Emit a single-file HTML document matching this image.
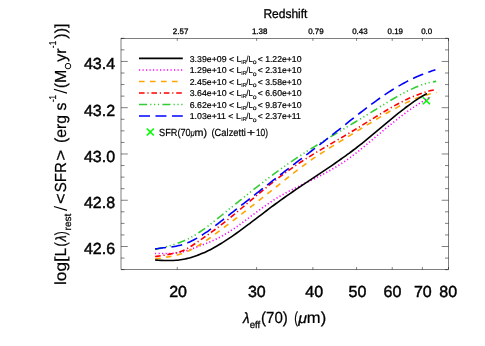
<!DOCTYPE html>
<html><head><meta charset="utf-8"><title>plot</title>
<style>html,body{margin:0;padding:0;background:#fff;}svg{display:block;will-change:transform;}text{font-family:'Liberation Sans',sans-serif;fill:#000;text-rendering:geometricPrecision;}</style></head>
<body>
<svg width="485" height="346" viewBox="0 0 485 346">
<rect x="0" y="0" width="485" height="346" fill="#fff"/>
<path d="M422.90 97.25 L429.90 104.25 M422.90 104.25 L429.90 97.25" stroke="#00ff00" stroke-width="1.65" fill="none"/>
<g fill="none" stroke-width="1.60">
<path d="M155.10 253.47 C155.60 253.48 157.10 253.49 158.10 253.50 C159.10 253.51 160.10 253.53 161.10 253.54 C162.10 253.55 163.10 253.56 164.10 253.56 C165.10 253.56 166.10 253.56 167.10 253.54 C168.10 253.52 169.10 253.50 170.10 253.45 C171.10 253.41 172.10 253.35 173.10 253.26 C174.10 253.18 175.10 253.08 176.10 252.95 C177.10 252.82 178.10 252.66 179.10 252.48 C180.10 252.30 181.10 252.09 182.10 251.86 C183.10 251.63 184.10 251.37 185.10 251.09 C186.10 250.81 187.10 250.51 188.10 250.19 C189.10 249.87 190.10 249.53 191.10 249.18 C192.10 248.83 193.10 248.46 194.10 248.09 C195.10 247.72 196.10 247.34 197.10 246.96 C198.10 246.58 199.10 246.19 200.10 245.81 C201.10 245.42 202.10 245.04 203.10 244.65 C204.10 244.25 205.10 243.86 206.10 243.46 C207.10 243.05 208.10 242.65 209.10 242.23 C210.10 241.81 211.10 241.38 212.10 240.94 C213.10 240.49 214.10 240.04 215.10 239.57 C216.10 239.10 217.10 238.62 218.10 238.11 C219.10 237.61 220.10 237.09 221.10 236.55 C222.10 236.01 223.10 235.45 224.10 234.87 C225.10 234.29 226.10 233.69 227.10 233.08 C228.10 232.47 229.10 231.84 230.10 231.19 C231.10 230.55 232.10 229.89 233.10 229.22 C234.10 228.54 235.10 227.86 236.10 227.17 C237.10 226.47 238.10 225.77 239.10 225.05 C240.10 224.34 241.10 223.62 242.10 222.89 C243.10 222.16 244.10 221.43 245.10 220.69 C246.10 219.95 247.10 219.20 248.10 218.46 C249.10 217.71 250.10 216.96 251.10 216.22 C252.10 215.47 253.10 214.72 254.10 213.97 C255.10 213.22 256.10 212.47 257.10 211.73 C258.10 210.99 259.10 210.25 260.10 209.51 C261.10 208.78 262.10 208.05 263.10 207.33 C264.10 206.61 265.10 205.90 266.10 205.19 C267.10 204.49 268.10 203.79 269.10 203.11 C270.10 202.43 271.10 201.75 272.10 201.10 C273.10 200.44 274.10 199.79 275.10 199.16 C276.10 198.53 277.10 197.92 278.10 197.32 C279.10 196.71 280.10 196.13 281.10 195.55 C282.10 194.97 283.10 194.41 284.10 193.85 C285.10 193.30 286.10 192.75 287.10 192.22 C288.10 191.68 289.10 191.16 290.10 190.64 C291.10 190.12 292.10 189.61 293.10 189.10 C294.10 188.59 295.10 188.09 296.10 187.60 C297.10 187.10 298.10 186.61 299.10 186.12 C300.10 185.63 301.10 185.15 302.10 184.66 C303.10 184.18 304.10 183.69 305.10 183.21 C306.10 182.73 307.10 182.24 308.10 181.76 C309.10 181.27 310.10 180.79 311.10 180.30 C312.10 179.81 313.10 179.32 314.10 178.82 C315.10 178.33 316.10 177.83 317.10 177.33 C318.10 176.83 319.10 176.32 320.10 175.81 C321.10 175.29 322.10 174.77 323.10 174.25 C324.10 173.72 325.10 173.19 326.10 172.65 C327.10 172.11 328.10 171.56 329.10 171.00 C330.10 170.44 331.10 169.88 332.10 169.30 C333.10 168.72 334.10 168.13 335.10 167.54 C336.10 166.94 337.10 166.33 338.10 165.70 C339.10 165.08 340.10 164.45 341.10 163.80 C342.10 163.15 343.10 162.48 344.10 161.81 C345.10 161.13 346.10 160.44 347.10 159.73 C348.10 159.02 349.10 158.30 350.10 157.57 C351.10 156.84 352.10 156.09 353.10 155.34 C354.10 154.58 355.10 153.81 356.10 153.03 C357.10 152.26 358.10 151.47 359.10 150.68 C360.10 149.88 361.10 149.08 362.10 148.27 C363.10 147.46 364.10 146.64 365.10 145.82 C366.10 145.00 367.10 144.17 368.10 143.34 C369.10 142.50 370.10 141.67 371.10 140.83 C372.10 139.99 373.10 139.15 374.10 138.31 C375.10 137.47 376.10 136.62 377.10 135.78 C378.10 134.94 379.10 134.09 380.10 133.25 C381.10 132.41 382.10 131.57 383.10 130.73 C384.10 129.90 385.10 129.06 386.10 128.23 C387.10 127.40 388.10 126.58 389.10 125.76 C390.10 124.94 391.10 124.13 392.10 123.32 C393.10 122.51 394.10 121.71 395.10 120.92 C396.10 120.13 397.10 119.34 398.10 118.56 C399.10 117.79 400.10 117.02 401.10 116.26 C402.10 115.50 403.10 114.74 404.10 114.00 C405.10 113.26 406.10 112.52 407.10 111.80 C408.10 111.08 409.10 110.36 410.10 109.66 C411.10 108.96 412.10 108.26 413.10 107.58 C414.10 106.90 415.10 106.23 416.10 105.57 C417.10 104.91 418.10 104.27 419.10 103.63 C420.10 103.00 421.10 102.37 422.10 101.77 C423.10 101.16 424.10 100.56 425.10 99.98 C426.10 99.40 427.22 98.77 428.10 98.27 C428.98 97.78 430.02 97.23 430.40 97.03" stroke="#ff00ff" stroke-dasharray="1.2 2.3"/>
<path d="M155.10 259.09 C155.60 258.99 157.10 258.70 158.10 258.52 C159.10 258.34 160.10 258.18 161.10 258.01 C162.10 257.85 163.10 257.70 164.10 257.54 C165.10 257.38 166.10 257.23 167.10 257.07 C168.10 256.90 169.10 256.74 170.10 256.56 C171.10 256.38 172.10 256.19 173.10 255.99 C174.10 255.78 175.10 255.56 176.10 255.32 C177.10 255.08 178.10 254.82 179.10 254.53 C180.10 254.24 181.10 253.92 182.10 253.58 C183.10 253.23 184.10 252.85 185.10 252.44 C186.10 252.04 187.10 251.60 188.10 251.14 C189.10 250.68 190.10 250.19 191.10 249.68 C192.10 249.17 193.10 248.64 194.10 248.09 C195.10 247.53 196.10 246.95 197.10 246.36 C198.10 245.76 199.10 245.15 200.10 244.52 C201.10 243.89 202.10 243.24 203.10 242.58 C204.10 241.93 205.10 241.25 206.10 240.57 C207.10 239.88 208.10 239.18 209.10 238.48 C210.10 237.77 211.10 237.06 212.10 236.34 C213.10 235.62 214.10 234.89 215.10 234.16 C216.10 233.43 217.10 232.69 218.10 231.95 C219.10 231.21 220.10 230.47 221.10 229.73 C222.10 228.98 223.10 228.23 224.10 227.48 C225.10 226.73 226.10 225.98 227.10 225.23 C228.10 224.47 229.10 223.71 230.10 222.95 C231.10 222.19 232.10 221.43 233.10 220.66 C234.10 219.90 235.10 219.13 236.10 218.36 C237.10 217.59 238.10 216.82 239.10 216.05 C240.10 215.28 241.10 214.50 242.10 213.72 C243.10 212.95 244.10 212.17 245.10 211.39 C246.10 210.61 247.10 209.83 248.10 209.04 C249.10 208.26 250.10 207.48 251.10 206.69 C252.10 205.91 253.10 205.12 254.10 204.33 C255.10 203.54 256.10 202.76 257.10 201.97 C258.10 201.18 259.10 200.38 260.10 199.59 C261.10 198.80 262.10 198.01 263.10 197.22 C264.10 196.42 265.10 195.63 266.10 194.84 C267.10 194.04 268.10 193.25 269.10 192.46 C270.10 191.66 271.10 190.87 272.10 190.07 C273.10 189.28 274.10 188.48 275.10 187.69 C276.10 186.90 277.10 186.10 278.10 185.31 C279.10 184.51 280.10 183.72 281.10 182.93 C282.10 182.13 283.10 181.34 284.10 180.55 C285.10 179.76 286.10 178.96 287.10 178.17 C288.10 177.38 289.10 176.59 290.10 175.81 C291.10 175.02 292.10 174.23 293.10 173.45 C294.10 172.67 295.10 171.89 296.10 171.12 C297.10 170.35 298.10 169.58 299.10 168.82 C300.10 168.06 301.10 167.30 302.10 166.55 C303.10 165.80 304.10 165.06 305.10 164.32 C306.10 163.59 307.10 162.86 308.10 162.15 C309.10 161.43 310.10 160.72 311.10 160.02 C312.10 159.33 313.10 158.64 314.10 157.96 C315.10 157.29 316.10 156.62 317.10 155.96 C318.10 155.30 319.10 154.65 320.10 154.00 C321.10 153.35 322.10 152.71 323.10 152.08 C324.10 151.44 325.10 150.81 326.10 150.18 C327.10 149.55 328.10 148.93 329.10 148.31 C330.10 147.68 331.10 147.06 332.10 146.44 C333.10 145.82 334.10 145.20 335.10 144.58 C336.10 143.96 337.10 143.34 338.10 142.73 C339.10 142.11 340.10 141.49 341.10 140.88 C342.10 140.26 343.10 139.65 344.10 139.03 C345.10 138.42 346.10 137.80 347.10 137.19 C348.10 136.58 349.10 135.97 350.10 135.35 C351.10 134.74 352.10 134.13 353.10 133.52 C354.10 132.91 355.10 132.29 356.10 131.68 C357.10 131.07 358.10 130.46 359.10 129.85 C360.10 129.24 361.10 128.63 362.10 128.02 C363.10 127.41 364.10 126.80 365.10 126.18 C366.10 125.57 367.10 124.96 368.10 124.35 C369.10 123.74 370.10 123.13 371.10 122.52 C372.10 121.91 373.10 121.30 374.10 120.69 C375.10 120.08 376.10 119.48 377.10 118.87 C378.10 118.27 379.10 117.67 380.10 117.07 C381.10 116.47 382.10 115.88 383.10 115.29 C384.10 114.70 385.10 114.12 386.10 113.54 C387.10 112.96 388.10 112.38 389.10 111.81 C390.10 111.24 391.10 110.68 392.10 110.12 C393.10 109.56 394.10 109.01 395.10 108.47 C396.10 107.93 397.10 107.39 398.10 106.87 C399.10 106.34 400.10 105.82 401.10 105.31 C402.10 104.80 403.10 104.30 404.10 103.81 C405.10 103.32 406.10 102.84 407.10 102.38 C408.10 101.91 409.10 101.45 410.10 101.00 C411.10 100.56 412.10 100.12 413.10 99.70 C414.10 99.28 415.10 98.87 416.10 98.47 C417.10 98.08 418.10 97.69 419.10 97.32 C420.10 96.96 421.10 96.60 422.10 96.26 C423.10 95.92 424.10 95.60 425.10 95.29 C426.10 94.98 427.10 94.69 428.10 94.41 C429.10 94.14 430.10 93.88 431.10 93.64 C432.10 93.39 433.16 93.16 434.10 92.96 C435.04 92.77 436.31 92.54 436.75 92.46" stroke="#ffa500" stroke-dasharray="5.6 5.4"/>
<path d="M155.10 256.50 C155.60 256.44 157.10 256.27 158.10 256.13 C159.10 256.00 160.10 255.85 161.10 255.69 C162.10 255.54 163.10 255.37 164.10 255.20 C165.10 255.02 166.10 254.84 167.10 254.66 C168.10 254.47 169.10 254.28 170.10 254.09 C171.10 253.90 172.10 253.71 173.10 253.51 C174.10 253.31 175.10 253.12 176.10 252.88 C177.10 252.65 178.10 252.40 179.10 252.09 C180.10 251.78 181.10 251.42 182.10 251.01 C183.10 250.61 184.10 250.14 185.10 249.64 C186.10 249.14 187.10 248.60 188.10 248.03 C189.10 247.46 190.10 246.85 191.10 246.22 C192.10 245.60 193.10 244.94 194.10 244.28 C195.10 243.62 196.10 242.93 197.10 242.25 C198.10 241.57 199.10 240.88 200.10 240.19 C201.10 239.50 202.10 238.81 203.10 238.12 C204.10 237.42 205.10 236.73 206.10 236.02 C207.10 235.32 208.10 234.61 209.10 233.89 C210.10 233.18 211.10 232.46 212.10 231.72 C213.10 230.99 214.10 230.25 215.10 229.50 C216.10 228.75 217.10 228.00 218.10 227.23 C219.10 226.46 220.10 225.69 221.10 224.91 C222.10 224.13 223.10 223.34 224.10 222.55 C225.10 221.76 226.10 220.96 227.10 220.15 C228.10 219.35 229.10 218.54 230.10 217.72 C231.10 216.91 232.10 216.08 233.10 215.26 C234.10 214.44 235.10 213.61 236.10 212.78 C237.10 211.95 238.10 211.11 239.10 210.28 C240.10 209.44 241.10 208.60 242.10 207.76 C243.10 206.92 244.10 206.08 245.10 205.24 C246.10 204.39 247.10 203.55 248.10 202.71 C249.10 201.86 250.10 201.02 251.10 200.17 C252.10 199.33 253.10 198.49 254.10 197.65 C255.10 196.81 256.10 195.97 257.10 195.13 C258.10 194.29 259.10 193.46 260.10 192.62 C261.10 191.79 262.10 190.96 263.10 190.14 C264.10 189.31 265.10 188.49 266.10 187.67 C267.10 186.86 268.10 186.04 269.10 185.24 C270.10 184.43 271.10 183.63 272.10 182.83 C273.10 182.03 274.10 181.24 275.10 180.46 C276.10 179.68 277.10 178.90 278.10 178.13 C279.10 177.36 280.10 176.60 281.10 175.85 C282.10 175.10 283.10 174.35 284.10 173.62 C285.10 172.88 286.10 172.16 287.10 171.44 C288.10 170.72 289.10 170.01 290.10 169.31 C291.10 168.61 292.10 167.92 293.10 167.23 C294.10 166.54 295.10 165.86 296.10 165.19 C297.10 164.52 298.10 163.86 299.10 163.20 C300.10 162.54 301.10 161.89 302.10 161.24 C303.10 160.59 304.10 159.95 305.10 159.32 C306.10 158.68 307.10 158.05 308.10 157.43 C309.10 156.80 310.10 156.18 311.10 155.57 C312.10 154.95 313.10 154.34 314.10 153.73 C315.10 153.12 316.10 152.52 317.10 151.92 C318.10 151.32 319.10 150.72 320.10 150.13 C321.10 149.53 322.10 148.94 323.10 148.35 C324.10 147.76 325.10 147.17 326.10 146.58 C327.10 146.00 328.10 145.41 329.10 144.83 C330.10 144.25 331.10 143.66 332.10 143.08 C333.10 142.50 334.10 141.92 335.10 141.34 C336.10 140.76 337.10 140.17 338.10 139.59 C339.10 139.01 340.10 138.43 341.10 137.85 C342.10 137.26 343.10 136.68 344.10 136.09 C345.10 135.51 346.10 134.92 347.10 134.33 C348.10 133.74 349.10 133.15 350.10 132.56 C351.10 131.96 352.10 131.37 353.10 130.77 C354.10 130.17 355.10 129.57 356.10 128.96 C357.10 128.35 358.10 127.74 359.10 127.13 C360.10 126.52 361.10 125.90 362.10 125.29 C363.10 124.67 364.10 124.05 365.10 123.43 C366.10 122.81 367.10 122.19 368.10 121.57 C369.10 120.94 370.10 120.32 371.10 119.70 C372.10 119.08 373.10 118.46 374.10 117.84 C375.10 117.22 376.10 116.61 377.10 115.99 C378.10 115.38 379.10 114.77 380.10 114.16 C381.10 113.55 382.10 112.95 383.10 112.35 C384.10 111.75 385.10 111.15 386.10 110.56 C387.10 109.97 388.10 109.38 389.10 108.80 C390.10 108.22 391.10 107.65 392.10 107.09 C393.10 106.52 394.10 105.96 395.10 105.41 C396.10 104.86 397.10 104.31 398.10 103.78 C399.10 103.25 400.10 102.72 401.10 102.21 C402.10 101.69 403.10 101.18 404.10 100.69 C405.10 100.19 406.10 99.71 407.10 99.24 C408.10 98.76 409.10 98.30 410.10 97.85 C411.10 97.40 412.10 96.97 413.10 96.54 C414.10 96.12 415.10 95.71 416.10 95.31 C417.10 94.92 418.10 94.53 419.10 94.17 C420.10 93.80 421.10 93.45 422.10 93.11 C423.10 92.78 424.10 92.46 425.10 92.16 C426.10 91.86 427.10 91.57 428.10 91.30 C429.10 91.03 430.10 90.78 431.10 90.55 C432.10 90.32 433.23 90.09 434.10 89.92 C434.97 89.74 435.93 89.59 436.30 89.52" stroke="#ff0000" stroke-dasharray="5.6 2.8 1.2 2.8"/>
<path d="M155.10 249.49 C155.60 249.37 157.10 249.05 158.10 248.82 C159.10 248.59 160.10 248.36 161.10 248.12 C162.10 247.89 163.10 247.64 164.10 247.39 C165.10 247.13 166.10 246.87 167.10 246.60 C168.10 246.33 169.10 246.05 170.10 245.75 C171.10 245.46 172.10 245.16 173.10 244.84 C174.10 244.52 175.10 244.19 176.10 243.84 C177.10 243.49 178.10 243.13 179.10 242.76 C180.10 242.38 181.10 241.98 182.10 241.57 C183.10 241.16 184.10 240.73 185.10 240.27 C186.10 239.82 187.10 239.35 188.10 238.85 C189.10 238.36 190.10 237.84 191.10 237.29 C192.10 236.75 193.10 236.18 194.10 235.59 C195.10 235.00 196.10 234.38 197.10 233.75 C198.10 233.11 199.10 232.46 200.10 231.78 C201.10 231.11 202.10 230.41 203.10 229.70 C204.10 229.00 205.10 228.27 206.10 227.53 C207.10 226.79 208.10 226.04 209.10 225.28 C210.10 224.51 211.10 223.74 212.10 222.96 C213.10 222.17 214.10 221.38 215.10 220.58 C216.10 219.79 217.10 218.98 218.10 218.18 C219.10 217.37 220.10 216.56 221.10 215.75 C222.10 214.93 223.10 214.12 224.10 213.31 C225.10 212.49 226.10 211.68 227.10 210.87 C228.10 210.06 229.10 209.24 230.10 208.43 C231.10 207.62 232.10 206.81 233.10 206.00 C234.10 205.19 235.10 204.38 236.10 203.57 C237.10 202.76 238.10 201.95 239.10 201.15 C240.10 200.34 241.10 199.54 242.10 198.73 C243.10 197.93 244.10 197.13 245.10 196.33 C246.10 195.53 247.10 194.73 248.10 193.94 C249.10 193.14 250.10 192.35 251.10 191.55 C252.10 190.76 253.10 189.97 254.10 189.19 C255.10 188.40 256.10 187.62 257.10 186.84 C258.10 186.05 259.10 185.28 260.10 184.50 C261.10 183.73 262.10 182.95 263.10 182.18 C264.10 181.42 265.10 180.65 266.10 179.89 C267.10 179.13 268.10 178.37 269.10 177.61 C270.10 176.86 271.10 176.11 272.10 175.36 C273.10 174.62 274.10 173.87 275.10 173.14 C276.10 172.40 277.10 171.67 278.10 170.94 C279.10 170.21 280.10 169.48 281.10 168.76 C282.10 168.04 283.10 167.33 284.10 166.62 C285.10 165.91 286.10 165.21 287.10 164.51 C288.10 163.81 289.10 163.12 290.10 162.43 C291.10 161.74 292.10 161.06 293.10 160.38 C294.10 159.70 295.10 159.03 296.10 158.37 C297.10 157.70 298.10 157.04 299.10 156.38 C300.10 155.73 301.10 155.08 302.10 154.43 C303.10 153.78 304.10 153.14 305.10 152.50 C306.10 151.86 307.10 151.22 308.10 150.59 C309.10 149.96 310.10 149.33 311.10 148.71 C312.10 148.08 313.10 147.46 314.10 146.84 C315.10 146.22 316.10 145.60 317.10 144.99 C318.10 144.38 319.10 143.76 320.10 143.15 C321.10 142.54 322.10 141.94 323.10 141.33 C324.10 140.72 325.10 140.12 326.10 139.52 C327.10 138.91 328.10 138.31 329.10 137.71 C330.10 137.11 331.10 136.51 332.10 135.91 C333.10 135.31 334.10 134.71 335.10 134.11 C336.10 133.51 337.10 132.91 338.10 132.31 C339.10 131.71 340.10 131.11 341.10 130.51 C342.10 129.91 343.10 129.31 344.10 128.71 C345.10 128.11 346.10 127.51 347.10 126.91 C348.10 126.30 349.10 125.70 350.10 125.10 C351.10 124.50 352.10 123.90 353.10 123.29 C354.10 122.69 355.10 122.09 356.10 121.48 C357.10 120.88 358.10 120.27 359.10 119.66 C360.10 119.06 361.10 118.45 362.10 117.84 C363.10 117.24 364.10 116.63 365.10 116.02 C366.10 115.41 367.10 114.80 368.10 114.19 C369.10 113.57 370.10 112.96 371.10 112.35 C372.10 111.73 373.10 111.12 374.10 110.50 C375.10 109.88 376.10 109.27 377.10 108.65 C378.10 108.03 379.10 107.41 380.10 106.79 C381.10 106.17 382.10 105.55 383.10 104.94 C384.10 104.32 385.10 103.71 386.10 103.10 C387.10 102.49 388.10 101.88 389.10 101.27 C390.10 100.67 391.10 100.07 392.10 99.48 C393.10 98.89 394.10 98.30 395.10 97.72 C396.10 97.15 397.10 96.57 398.10 96.01 C399.10 95.45 400.10 94.89 401.10 94.35 C402.10 93.80 403.10 93.27 404.10 92.74 C405.10 92.22 406.10 91.70 407.10 91.20 C408.10 90.70 409.10 90.21 410.10 89.74 C411.10 89.27 412.10 88.80 413.10 88.36 C414.10 87.91 415.10 87.48 416.10 87.07 C417.10 86.65 418.10 86.25 419.10 85.87 C420.10 85.49 421.10 85.13 422.10 84.79 C423.10 84.44 424.10 84.12 425.10 83.81 C426.10 83.51 427.10 83.22 428.10 82.96 C429.10 82.70 430.10 82.45 431.10 82.24 C432.10 82.02 433.25 81.80 434.10 81.65 C434.95 81.50 435.85 81.38 436.20 81.32" stroke="#32cd32" stroke-dasharray="8.1 3.1 1.2 2.65 1.2 2.65 1.2 3.25"/>
<path d="M155.10 248.96 C155.60 248.87 157.10 248.59 158.10 248.44 C159.10 248.28 160.10 248.15 161.10 248.03 C162.10 247.90 163.10 247.80 164.10 247.69 C165.10 247.58 166.10 247.48 167.10 247.38 C168.10 247.27 169.10 247.17 170.10 247.05 C171.10 246.93 172.10 246.81 173.10 246.67 C174.10 246.53 175.10 246.37 176.10 246.19 C177.10 246.01 178.10 245.81 179.10 245.57 C180.10 245.33 181.10 245.07 182.10 244.77 C183.10 244.47 184.10 244.14 185.10 243.78 C186.10 243.42 187.10 243.03 188.10 242.61 C189.10 242.19 190.10 241.75 191.10 241.27 C192.10 240.80 193.10 240.30 194.10 239.78 C195.10 239.25 196.10 238.70 197.10 238.13 C198.10 237.55 199.10 236.95 200.10 236.34 C201.10 235.72 202.10 235.08 203.10 234.42 C204.10 233.77 205.10 233.09 206.10 232.40 C207.10 231.71 208.10 231.00 209.10 230.28 C210.10 229.57 211.10 228.83 212.10 228.09 C213.10 227.35 214.10 226.60 215.10 225.84 C216.10 225.08 217.10 224.31 218.10 223.54 C219.10 222.76 220.10 221.98 221.10 221.21 C222.10 220.43 223.10 219.64 224.10 218.86 C225.10 218.08 226.10 217.30 227.10 216.51 C228.10 215.73 229.10 214.95 230.10 214.16 C231.10 213.38 232.10 212.59 233.10 211.81 C234.10 211.02 235.10 210.24 236.10 209.45 C237.10 208.67 238.10 207.88 239.10 207.10 C240.10 206.31 241.10 205.53 242.10 204.74 C243.10 203.95 244.10 203.17 245.10 202.38 C246.10 201.60 247.10 200.81 248.10 200.02 C249.10 199.24 250.10 198.45 251.10 197.67 C252.10 196.88 253.10 196.10 254.10 195.31 C255.10 194.53 256.10 193.74 257.10 192.96 C258.10 192.17 259.10 191.39 260.10 190.60 C261.10 189.82 262.10 189.04 263.10 188.25 C264.10 187.47 265.10 186.69 266.10 185.91 C267.10 185.12 268.10 184.34 269.10 183.56 C270.10 182.78 271.10 182.00 272.10 181.22 C273.10 180.44 274.10 179.66 275.10 178.88 C276.10 178.11 277.10 177.33 278.10 176.55 C279.10 175.78 280.10 175.00 281.10 174.23 C282.10 173.45 283.10 172.68 284.10 171.90 C285.10 171.13 286.10 170.36 287.10 169.59 C288.10 168.82 289.10 168.05 290.10 167.28 C291.10 166.51 292.10 165.75 293.10 164.98 C294.10 164.21 295.10 163.45 296.10 162.68 C297.10 161.92 298.10 161.16 299.10 160.39 C300.10 159.63 301.10 158.87 302.10 158.10 C303.10 157.34 304.10 156.58 305.10 155.82 C306.10 155.06 307.10 154.29 308.10 153.53 C309.10 152.77 310.10 152.00 311.10 151.24 C312.10 150.48 313.10 149.71 314.10 148.95 C315.10 148.18 316.10 147.41 317.10 146.64 C318.10 145.88 319.10 145.11 320.10 144.34 C321.10 143.57 322.10 142.79 323.10 142.02 C324.10 141.25 325.10 140.47 326.10 139.69 C327.10 138.92 328.10 138.14 329.10 137.35 C330.10 136.57 331.10 135.79 332.10 135.00 C333.10 134.21 334.10 133.42 335.10 132.63 C336.10 131.84 337.10 131.05 338.10 130.26 C339.10 129.46 340.10 128.67 341.10 127.88 C342.10 127.08 343.10 126.29 344.10 125.49 C345.10 124.70 346.10 123.90 347.10 123.11 C348.10 122.32 349.10 121.52 350.10 120.73 C351.10 119.94 352.10 119.15 353.10 118.36 C354.10 117.58 355.10 116.79 356.10 116.01 C357.10 115.22 358.10 114.44 359.10 113.66 C360.10 112.89 361.10 112.11 362.10 111.34 C363.10 110.57 364.10 109.80 365.10 109.04 C366.10 108.27 367.10 107.51 368.10 106.76 C369.10 106.01 370.10 105.26 371.10 104.51 C372.10 103.77 373.10 103.03 374.10 102.30 C375.10 101.57 376.10 100.84 377.10 100.13 C378.10 99.41 379.10 98.70 380.10 97.99 C381.10 97.29 382.10 96.59 383.10 95.90 C384.10 95.22 385.10 94.54 386.10 93.87 C387.10 93.20 388.10 92.54 389.10 91.89 C390.10 91.23 391.10 90.59 392.10 89.96 C393.10 89.33 394.10 88.71 395.10 88.10 C396.10 87.49 397.10 86.89 398.10 86.30 C399.10 85.72 400.10 85.14 401.10 84.58 C402.10 84.02 403.10 83.47 404.10 82.93 C405.10 82.40 406.10 81.87 407.10 81.36 C408.10 80.85 409.10 80.35 410.10 79.87 C411.10 79.38 412.10 78.91 413.10 78.45 C414.10 77.99 415.10 77.54 416.10 77.10 C417.10 76.66 418.10 76.24 419.10 75.82 C420.10 75.40 421.10 74.99 422.10 74.59 C423.10 74.19 424.10 73.80 425.10 73.42 C426.10 73.04 427.10 72.67 428.10 72.30 C429.10 71.94 430.10 71.58 431.10 71.23 C432.10 70.88 433.38 70.45 434.10 70.20 C434.82 69.96 435.18 69.84 435.40 69.77" stroke="#0000ff" stroke-dasharray="11 5.46"/>
<path d="M155.10 259.97 C155.60 260.01 157.10 260.12 158.10 260.19 C159.10 260.26 160.10 260.32 161.10 260.37 C162.10 260.42 163.10 260.46 164.10 260.49 C165.10 260.53 166.10 260.55 167.10 260.55 C168.10 260.56 169.10 260.56 170.10 260.54 C171.10 260.52 172.10 260.49 173.10 260.44 C174.10 260.39 175.10 260.33 176.10 260.24 C177.10 260.16 178.10 260.06 179.10 259.94 C180.10 259.82 181.10 259.68 182.10 259.52 C183.10 259.36 184.10 259.18 185.10 258.98 C186.10 258.78 187.10 258.55 188.10 258.30 C189.10 258.06 190.10 257.79 191.10 257.50 C192.10 257.21 193.10 256.90 194.10 256.57 C195.10 256.24 196.10 255.89 197.10 255.52 C198.10 255.15 199.10 254.76 200.10 254.36 C201.10 253.95 202.10 253.53 203.10 253.08 C204.10 252.64 205.10 252.19 206.10 251.71 C207.10 251.24 208.10 250.75 209.10 250.24 C210.10 249.74 211.10 249.21 212.10 248.68 C213.10 248.14 214.10 247.59 215.10 247.03 C216.10 246.47 217.10 245.89 218.10 245.30 C219.10 244.71 220.10 244.10 221.10 243.49 C222.10 242.88 223.10 242.25 224.10 241.61 C225.10 240.97 226.10 240.33 227.10 239.67 C228.10 239.01 229.10 238.34 230.10 237.66 C231.10 236.99 232.10 236.30 233.10 235.61 C234.10 234.91 235.10 234.21 236.10 233.50 C237.10 232.79 238.10 232.07 239.10 231.35 C240.10 230.63 241.10 229.90 242.10 229.16 C243.10 228.43 244.10 227.69 245.10 226.94 C246.10 226.20 247.10 225.45 248.10 224.70 C249.10 223.95 250.10 223.19 251.10 222.44 C252.10 221.68 253.10 220.92 254.10 220.16 C255.10 219.39 256.10 218.63 257.10 217.87 C258.10 217.10 259.10 216.34 260.10 215.57 C261.10 214.81 262.10 214.05 263.10 213.28 C264.10 212.52 265.10 211.76 266.10 211.00 C267.10 210.24 268.10 209.49 269.10 208.73 C270.10 207.98 271.10 207.23 272.10 206.48 C273.10 205.74 274.10 204.99 275.10 204.26 C276.10 203.52 277.10 202.79 278.10 202.06 C279.10 201.34 280.10 200.62 281.10 199.90 C282.10 199.18 283.10 198.47 284.10 197.76 C285.10 197.06 286.10 196.36 287.10 195.66 C288.10 194.96 289.10 194.26 290.10 193.57 C291.10 192.88 292.10 192.19 293.10 191.51 C294.10 190.82 295.10 190.14 296.10 189.46 C297.10 188.78 298.10 188.11 299.10 187.43 C300.10 186.76 301.10 186.08 302.10 185.41 C303.10 184.74 304.10 184.07 305.10 183.40 C306.10 182.74 307.10 182.07 308.10 181.40 C309.10 180.74 310.10 180.07 311.10 179.40 C312.10 178.74 313.10 178.07 314.10 177.41 C315.10 176.74 316.10 176.07 317.10 175.41 C318.10 174.74 319.10 174.07 320.10 173.40 C321.10 172.73 322.10 172.06 323.10 171.39 C324.10 170.72 325.10 170.05 326.10 169.37 C327.10 168.70 328.10 168.02 329.10 167.34 C330.10 166.66 331.10 165.97 332.10 165.29 C333.10 164.60 334.10 163.91 335.10 163.22 C336.10 162.53 337.10 161.83 338.10 161.13 C339.10 160.43 340.10 159.73 341.10 159.02 C342.10 158.31 343.10 157.59 344.10 156.88 C345.10 156.16 346.10 155.43 347.10 154.71 C348.10 153.98 349.10 153.24 350.10 152.50 C351.10 151.76 352.10 151.02 353.10 150.26 C354.10 149.51 355.10 148.75 356.10 147.99 C357.10 147.22 358.10 146.45 359.10 145.67 C360.10 144.89 361.10 144.10 362.10 143.31 C363.10 142.51 364.10 141.71 365.10 140.90 C366.10 140.09 367.10 139.27 368.10 138.45 C369.10 137.63 370.10 136.81 371.10 135.98 C372.10 135.14 373.10 134.31 374.10 133.47 C375.10 132.63 376.10 131.79 377.10 130.95 C378.10 130.11 379.10 129.27 380.10 128.42 C381.10 127.58 382.10 126.73 383.10 125.89 C384.10 125.05 385.10 124.21 386.10 123.37 C387.10 122.53 388.10 121.69 389.10 120.86 C390.10 120.02 391.10 119.19 392.10 118.37 C393.10 117.54 394.10 116.72 395.10 115.90 C396.10 115.09 397.10 114.28 398.10 113.48 C399.10 112.68 400.10 111.88 401.10 111.10 C402.10 110.31 403.10 109.53 404.10 108.77 C405.10 108.00 406.10 107.24 407.10 106.50 C408.10 105.75 409.10 105.02 410.10 104.29 C411.10 103.57 412.10 102.86 413.10 102.16 C414.10 101.47 415.10 100.78 416.10 100.12 C417.10 99.45 418.10 98.80 419.10 98.16 C420.10 97.52 421.10 96.90 422.10 96.30 C423.10 95.70 424.30 95.00 425.10 94.54 C425.90 94.08 426.60 93.71 426.90 93.54" stroke="#000000"/>
</g>
<g stroke="#000" stroke-width="0.50" fill="none">
<rect x="121.00" y="38.30" width="327.50" height="231.35"/>
<path d="M121.00 269.65 h3.50 M448.50 269.65 h-3.50 M121.00 258.08 h3.50 M448.50 258.08 h-3.50 M121.00 246.51 h6.80 M448.50 246.51 h-6.80 M121.00 234.95 h3.50 M448.50 234.95 h-3.50 M121.00 223.38 h3.50 M448.50 223.38 h-3.50 M121.00 211.81 h3.50 M448.50 211.81 h-3.50 M121.00 200.25 h6.80 M448.50 200.25 h-6.80 M121.00 188.68 h3.50 M448.50 188.68 h-3.50 M121.00 177.11 h3.50 M448.50 177.11 h-3.50 M121.00 165.54 h3.50 M448.50 165.54 h-3.50 M121.00 153.97 h6.80 M448.50 153.97 h-6.80 M121.00 142.41 h3.50 M448.50 142.41 h-3.50 M121.00 130.84 h3.50 M448.50 130.84 h-3.50 M121.00 119.27 h3.50 M448.50 119.27 h-3.50 M121.00 107.70 h6.80 M448.50 107.70 h-6.80 M121.00 96.14 h3.50 M448.50 96.14 h-3.50 M121.00 84.57 h3.50 M448.50 84.57 h-3.50 M121.00 73.00 h3.50 M448.50 73.00 h-3.50 M121.00 61.44 h6.80 M448.50 61.44 h-6.80 M121.00 49.87 h3.50 M448.50 49.87 h-3.50 M121.00 38.30 h3.50 M448.50 38.30 h-3.50 M177.28 269.65 v-2.6 M177.28 38.30 v2.6 M256.61 269.65 v-2.6 M256.61 38.30 v2.6 M312.89 269.65 v-2.6 M312.89 38.30 v2.6 M356.55 269.65 v-2.6 M356.55 38.30 v2.6 M392.22 269.65 v-2.6 M392.22 38.30 v2.6 M422.38 269.65 v-2.6 M422.38 38.30 v2.6 M448.50 269.65 v-2.6 M448.50 38.30 v2.6"/>
</g>
<text x="115.05" y="254.36" font-size="16" text-anchor="end" stroke="#000" stroke-width="0.45">42.6</text>
<text x="115.05" y="208.10" font-size="16" text-anchor="end" stroke="#000" stroke-width="0.45">42.8</text>
<text x="115.05" y="161.82" font-size="16" text-anchor="end" stroke="#000" stroke-width="0.45">43.0</text>
<text x="115.05" y="115.55" font-size="16" text-anchor="end" stroke="#000" stroke-width="0.45">43.2</text>
<text x="115.05" y="69.29" font-size="16" text-anchor="end" stroke="#000" stroke-width="0.45">43.4</text>
<text x="178.08" y="296.85" font-size="16" text-anchor="middle" stroke="#000" stroke-width="0.45">20</text>
<text x="256.86" y="296.85" font-size="16" text-anchor="middle" stroke="#000" stroke-width="0.45">30</text>
<text x="314.19" y="296.85" font-size="16" text-anchor="middle" stroke="#000" stroke-width="0.45">40</text>
<text x="357.45" y="296.85" font-size="16" text-anchor="middle" stroke="#000" stroke-width="0.45">50</text>
<text x="392.52" y="296.85" font-size="16" text-anchor="middle" stroke="#000" stroke-width="0.45">60</text>
<text x="422.88" y="296.85" font-size="16" text-anchor="middle" stroke="#000" stroke-width="0.45">70</text>
<text x="448.20" y="296.85" font-size="16" text-anchor="middle" stroke="#000" stroke-width="0.45">80</text>
<text x="172.85" y="33.75" font-size="7.95" stroke="#000" stroke-width="0.3">2.57</text>
<text x="251.90" y="33.75" font-size="7.95" stroke="#000" stroke-width="0.3">1.38</text>
<text x="308.15" y="33.75" font-size="7.95" stroke="#000" stroke-width="0.3">0.79</text>
<text x="352.15" y="33.75" font-size="7.95" stroke="#000" stroke-width="0.3">0.43</text>
<text x="387.55" y="33.75" font-size="7.95" stroke="#000" stroke-width="0.3">0.19</text>
<text x="421.15" y="33.75" font-size="7.95" stroke="#000" stroke-width="0.3">0.0</text>
<text transform="translate(285.4,17.95) scale(0.985,1.04)" font-size="12.2" text-anchor="middle" stroke="#000" stroke-width="0.3">Redshift</text>
<text transform="translate(242.89,323.10) scale(0.9067,1)" font-size="14.8" stroke="#000" stroke-width="0.35" font-family="'Liberation Serif',serif" font-style="italic">λ</text>
<text transform="translate(249.66,327.80) scale(0.9767,1)" font-size="9.9" stroke="#000" stroke-width="0.25" >eff</text>
<text transform="translate(261.08,323.10) scale(0.9421,1)" font-size="16" stroke="#000" stroke-width="0.22" >(70)</text>
<text transform="translate(294.20,323.10) scale(0.6889,1)" font-size="16" stroke="#000" stroke-width="0.22" >(</text>
<text transform="translate(298.14,323.10) scale(1.0866,1)" font-size="14.6" stroke="#000" stroke-width="0.30" font-family="'Liberation Serif',serif" font-style="italic">μ</text>
<text transform="translate(306.87,323.10) scale(1.0328,1)" font-size="16" stroke="#000" stroke-width="0.22" >m)</text>
<g transform="translate(65.7,283.70) rotate(-90)">
<text transform="translate(-1.28,0.00) scale(1.0769,1)" font-size="16" stroke="#000" stroke-width="0.22" >log</text>
<text transform="translate(21.53,0.00) scale(1.2741,1)" font-size="16" stroke="#000" stroke-width="0.22" >[</text>
<text transform="translate(27.29,0.00) scale(0.9655,1)" font-size="16" stroke="#000" stroke-width="0.22" >L</text>
<text transform="translate(37.12,0.00) scale(0.7778,1)" font-size="16" stroke="#000" stroke-width="0.22" >(</text>
<text transform="translate(42.15,0.00) scale(0.8533,1)" font-size="14.8" stroke="#000" stroke-width="0.35" font-family="'Liberation Serif',serif" font-style="italic">λ</text>
<text transform="translate(48.39,0.00) scale(0.7568,1)" font-size="16" stroke="#000" stroke-width="0.22" >)</text>
<text transform="translate(53.29,4.90) scale(1.0125,1)" font-size="9.9" stroke="#000" stroke-width="0.25" >rest</text>
<text transform="translate(79.58,0.00) scale(1.1500,1)" font-size="16" stroke="#000" stroke-width="0.22" >&lt;</text>
<text transform="translate(91.41,0.00) scale(0.9398,1)" font-size="16" stroke="#000" stroke-width="0.22" >SFR</text>
<text transform="translate(123.07,0.00) scale(1.1750,1)" font-size="16" stroke="#000" stroke-width="0.22" >&gt;</text>
<text transform="translate(140.64,0.00) scale(0.9873,1)" font-size="16" stroke="#000" stroke-width="0.22" >(erg s</text>
<text transform="translate(181.60,-9.90) scale(0.8125,1)" font-size="9.9" stroke="#000" stroke-width="0.25" >-1</text>
<text transform="translate(195.43,0.00) scale(0.9985,1)" font-size="16" stroke="#000" stroke-width="0.22" >(M</text>
<text transform="translate(221.92,0.00) scale(0.9962,1)" font-size="16" stroke="#000" stroke-width="0.22" >yr</text>
<text transform="translate(235.70,-9.90) scale(0.8000,1)" font-size="9.9" stroke="#000" stroke-width="0.25" >-1</text>
<text transform="translate(245.03,0.00) scale(1.0035,1)" font-size="16" stroke="#000" stroke-width="0.22" >))]</text>
<path d="M73.3 1.3 L77.2 -11.8 M190.6 1.3 L194.5 -11.8" stroke="#000" stroke-width="1.15" fill="none"/><ellipse cx="217.6" cy="2.3" rx="2.75" ry="2.75" stroke="#000" stroke-width="0.95" fill="none"/>
</g>
<g fill="none" stroke-width="1.60">
<path d="M139 58.40 H182.8" stroke="#000000"/>
<path d="M139 69.93 H182.8" stroke="#ff00ff" stroke-dasharray="1.2 2.3"/>
<path d="M139 81.46 H182.8" stroke="#ffa500" stroke-dasharray="5.6 5.4"/>
<path d="M139 92.99 H182.8" stroke="#ff0000" stroke-dasharray="5.6 2.8 1.2 2.8"/>
<path d="M139 104.52 H182.8" stroke="#32cd32" stroke-dasharray="8.1 3.1 1.2 2.65 1.2 2.65 1.2 3.25"/>
<path d="M139 116.05 H182.8" stroke="#0000ff" stroke-dasharray="11 5.46"/>
</g>
<g transform="translate(0,61.80)"><text transform="translate(189.74,0.00) scale(1.0317,1)" font-size="8.5" stroke="#000" stroke-width="0.20" >3.39e+09 &lt; L</text><text transform="translate(241.24,2.00) scale(0.9684,1)" font-size="5.3" stroke="#000" stroke-width="0.12" >IR</text><text transform="translate(246.31,0.00) scale(0.9143,1)" font-size="8.5" stroke="#000" stroke-width="0.20" >/L</text><text transform="translate(252.72,2.30) scale(1.1000,1)" font-size="6.3" stroke="#000" stroke-width="0.15" >o</text><text transform="translate(257.67,0.00) scale(1.0183,1)" font-size="8.5" stroke="#000" stroke-width="0.20" >&lt; 1.22e+10</text></g>
<g transform="translate(0,73.33)"><text transform="translate(189.74,0.00) scale(1.0317,1)" font-size="8.5" stroke="#000" stroke-width="0.20" >1.29e+10 &lt; L</text><text transform="translate(241.24,2.00) scale(0.9684,1)" font-size="5.3" stroke="#000" stroke-width="0.12" >IR</text><text transform="translate(246.31,0.00) scale(0.9143,1)" font-size="8.5" stroke="#000" stroke-width="0.20" >/L</text><text transform="translate(252.72,2.30) scale(1.1000,1)" font-size="6.3" stroke="#000" stroke-width="0.15" >o</text><text transform="translate(257.67,0.00) scale(1.0183,1)" font-size="8.5" stroke="#000" stroke-width="0.20" >&lt; 2.31e+10</text></g>
<g transform="translate(0,84.86)"><text transform="translate(189.74,0.00) scale(1.0317,1)" font-size="8.5" stroke="#000" stroke-width="0.20" >2.45e+10 &lt; L</text><text transform="translate(241.24,2.00) scale(0.9684,1)" font-size="5.3" stroke="#000" stroke-width="0.12" >IR</text><text transform="translate(246.31,0.00) scale(0.9143,1)" font-size="8.5" stroke="#000" stroke-width="0.20" >/L</text><text transform="translate(252.72,2.30) scale(1.1000,1)" font-size="6.3" stroke="#000" stroke-width="0.15" >o</text><text transform="translate(257.67,0.00) scale(1.0183,1)" font-size="8.5" stroke="#000" stroke-width="0.20" >&lt; 3.58e+10</text></g>
<g transform="translate(0,96.39)"><text transform="translate(189.74,0.00) scale(1.0317,1)" font-size="8.5" stroke="#000" stroke-width="0.20" >3.64e+10 &lt; L</text><text transform="translate(241.24,2.00) scale(0.9684,1)" font-size="5.3" stroke="#000" stroke-width="0.12" >IR</text><text transform="translate(246.31,0.00) scale(0.9143,1)" font-size="8.5" stroke="#000" stroke-width="0.20" >/L</text><text transform="translate(252.72,2.30) scale(1.1000,1)" font-size="6.3" stroke="#000" stroke-width="0.15" >o</text><text transform="translate(257.67,0.00) scale(1.0183,1)" font-size="8.5" stroke="#000" stroke-width="0.20" >&lt; 6.60e+10</text></g>
<g transform="translate(0,107.92)"><text transform="translate(189.74,0.00) scale(1.0317,1)" font-size="8.5" stroke="#000" stroke-width="0.20" >6.62e+10 &lt; L</text><text transform="translate(241.24,2.00) scale(0.9684,1)" font-size="5.3" stroke="#000" stroke-width="0.12" >IR</text><text transform="translate(246.31,0.00) scale(0.9143,1)" font-size="8.5" stroke="#000" stroke-width="0.20" >/L</text><text transform="translate(252.72,2.30) scale(1.1000,1)" font-size="6.3" stroke="#000" stroke-width="0.15" >o</text><text transform="translate(257.67,0.00) scale(1.0183,1)" font-size="8.5" stroke="#000" stroke-width="0.20" >&lt; 9.87e+10</text></g>
<g transform="translate(0,119.45)"><text transform="translate(189.74,0.00) scale(1.0317,1)" font-size="8.5" stroke="#000" stroke-width="0.20" >1.03e+11 &lt; L</text><text transform="translate(241.24,2.00) scale(0.9684,1)" font-size="5.3" stroke="#000" stroke-width="0.12" >IR</text><text transform="translate(246.31,0.00) scale(0.9143,1)" font-size="8.5" stroke="#000" stroke-width="0.20" >/L</text><text transform="translate(252.72,2.30) scale(1.1000,1)" font-size="6.3" stroke="#000" stroke-width="0.15" >o</text><text transform="translate(257.67,0.00) scale(1.0183,1)" font-size="8.5" stroke="#000" stroke-width="0.20" >&lt; 2.37e+11</text></g>
<path d="M146.80 128.50 L153.80 135.50 M146.80 135.50 L153.80 128.50" stroke="#00ff00" stroke-width="1.65" fill="none"/>
<text transform="translate(159.07,135.80) scale(0.8921,1)" font-size="10.3" stroke="#000" stroke-width="0.20" >SFR(70</text>
<text transform="translate(190.79,135.80) scale(0.7628,1)" font-size="9.4" stroke="#000" stroke-width="0.15" font-family="'Liberation Serif',serif" font-style="italic">μ</text>
<text transform="translate(194.55,135.80) scale(1.0391,1)" font-size="10.3" stroke="#000" stroke-width="0.20" >m)</text>
<text transform="translate(211.44,135.80) scale(0.9119,1)" font-size="10.3" stroke="#000" stroke-width="0.20" >(Calzetti</text>
<text transform="translate(246.67,135.80) scale(1.4095,1)" font-size="10.3" stroke="#000" stroke-width="0.15" >+</text>
<text transform="translate(255.89,135.80) scale(0.8145,1)" font-size="10.3" stroke="#000" stroke-width="0.20" >10)</text>
</svg>
</body></html>
